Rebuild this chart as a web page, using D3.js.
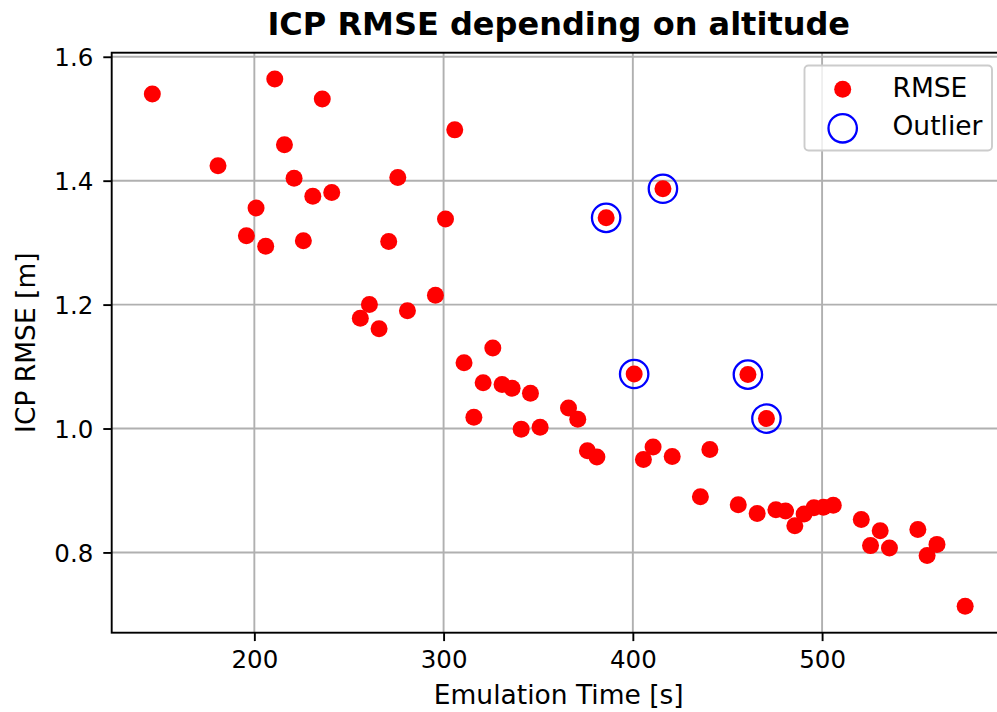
<!DOCTYPE html>
<html>
<head>
<meta charset="utf-8">
<script src="https://cdn.jsdelivr.net/npm/d3@7"></script>
<style>
  html, body { margin: 0; padding: 0; background: #fff; }
  svg { display: block; font-family: "DejaVu Sans", sans-serif; }
</style>
</head>
<body>
<svg id="chart" width="997" height="712"></svg>
<script>
const rmseX = [146.1, 180.8, 195.8, 200.9, 206.0, 210.8, 215.9, 221.0, 225.9, 230.9, 235.9, 240.9,
  256.0, 260.8, 265.9, 271.0, 275.8, 280.9, 295.7, 301.0, 305.9, 310.8, 316.0, 320.9, 326.0, 330.9,
  336.2, 341.0, 345.9, 351.0, 366.0, 370.9, 376.0, 381.0, 385.9, 400.7, 405.6, 410.7, 415.9, 420.8,
  435.7, 440.7, 455.7, 460.8, 465.7, 470.6, 475.6, 480.7, 485.6, 490.5, 495.7, 500.7, 505.9,
  520.7, 525.6, 530.7, 535.6, 550.6, 555.5, 560.7, 575.6];
const rmseY = [1.540, 1.424, 1.311, 1.356, 1.294, 1.564, 1.458, 1.404, 1.303, 1.375, 1.532, 1.381,
  1.178, 1.200, 1.161, 1.302, 1.405, 1.190, 1.215, 1.338, 1.482, 1.106, 1.018, 1.074, 1.130, 1.071,
  1.065, 0.999, 1.057, 1.002, 1.033, 1.015, 0.964, 0.954, 1.340, 1.088, 0.950, 0.970, 1.387, 0.955,
  0.890, 0.966, 0.877, 1.087, 0.863, 1.016, 0.869, 0.867, 0.843, 0.862, 0.872, 0.873, 0.876,
  0.853, 0.811, 0.835, 0.807, 0.837, 0.795, 0.813, 0.713];
const outlierX = [385.9, 400.7, 415.9, 460.8, 470.6];
const outlierY = [1.340, 1.088, 1.387, 1.087, 1.016];
const xTicks = [200, 300, 400, 500];
const yTicks = [0.8, 1.0, 1.2, 1.4, 1.6];
const titleText = "ICP RMSE depending on altitude";
const xLabelText = "Emulation Time [s]";
const yLabelText = "ICP RMSE [m]";
const legendLabels = ["RMSE", "Outlier"];

const svg = d3.select("#chart");
const L = 111.7, R = 1005.8, T = 52.7, B = 632.7;

const xMin = d3.min(rmseX), xMax = d3.max(rmseX);
const yMin = d3.min(rmseY), yMax = d3.max(rmseY);
const xPad = (xMax - xMin) * 0.05, yPad = (yMax - yMin) * 0.05;
const x = d3.scaleLinear().domain([xMin - xPad, xMax + xPad]).range([L, R]);
const y = d3.scaleLinear().domain([yMin - yPad, yMax + yPad]).range([B, T]);

const clipId = "plotclip";
svg.append("defs").append("clipPath").attr("id", clipId)
  .append("rect").attr("x", L).attr("y", T).attr("width", R - L).attr("height", B - T);

// grid
const grid = svg.append("g");
grid.selectAll("line.gx").data(xTicks).join("line")
  .attr("x1", d => x(d)).attr("x2", d => x(d)).attr("y1", T).attr("y2", B)
  .attr("stroke", "#b0b0b0").attr("stroke-width", 1.9);
grid.selectAll("line.gy").data(yTicks).join("line")
  .attr("y1", d => y(d)).attr("y2", d => y(d)).attr("x1", L).attr("x2", R)
  .attr("stroke", "#b0b0b0").attr("stroke-width", 1.9);

// points
const pts = svg.append("g").attr("clip-path", `url(#${clipId})`);
pts.selectAll("circle.rmse").data(rmseX.map((d, i) => [d, rmseY[i]])).join("circle")
  .attr("class", "rmse")
  .attr("cx", d => x(d[0])).attr("cy", d => y(d[1])).attr("r", 8.5)
  .attr("fill", "#ff0000");
pts.selectAll("circle.out").data(outlierX.map((d, i) => [d, outlierY[i]])).join("circle")
  .attr("class", "out")
  .attr("cx", d => x(d[0])).attr("cy", d => y(d[1])).attr("r", 14.2)
  .attr("fill", "none").attr("stroke", "#0000ff").attr("stroke-width", 2.3);

// axes
const xAxis = svg.append("g").attr("transform", `translate(0,${B})`)
  .call(d3.axisBottom(x).tickValues(xTicks).tickFormat(d3.format("d")).tickSize(8.4).tickPadding(8).tickSizeOuter(0));
const yAxis = svg.append("g").attr("transform", `translate(${L},0)`)
  .call(d3.axisLeft(y).tickValues(yTicks).tickFormat(d3.format(".1f")).tickSize(8.4).tickPadding(10).tickSizeOuter(0));
[xAxis, yAxis].forEach(a => {
  a.select(".domain").remove();
  a.selectAll(".tick line").attr("stroke", "#000").attr("stroke-width", 1.9);
  a.selectAll(".tick text").attr("fill", "#000").style("font-size", "24.5px").style("font-family", "DejaVu Sans");
});
yAxis.selectAll(".tick text").attr("dy", "0.36em");
xAxis.selectAll(".tick text").attr("dy", "0.76em");

// spines
svg.append("rect").attr("x", L).attr("y", T).attr("width", R - L).attr("height", B - T)
  .attr("fill", "none").attr("stroke", "#000").attr("stroke-width", 1.9);

// title and labels
svg.append("text").attr("x", (L + R) / 2).attr("y", 35).attr("text-anchor", "middle")
  .style("font-size", "32px").style("font-weight", "bold").text(titleText);
svg.append("text").attr("x", (L + R) / 2).attr("y", 704).attr("text-anchor", "middle")
  .style("font-size", "26.5px").text(xLabelText);
svg.append("text").attr("transform", `translate(35,${(T + B) / 2}) rotate(-90)`).attr("text-anchor", "middle")
  .style("font-size", "26.5px").text(yLabelText);

// legend
const lg = svg.append("g");
lg.append("rect").attr("x", 804.5).attr("y", 65.5).attr("width", 187.5).attr("height", 85)
  .attr("rx", 4).attr("fill", "#fff").attr("fill-opacity", 0.8)
  .attr("stroke", "#cccccc").attr("stroke-width", 1.9);
lg.append("circle").attr("cx", 842.7).attr("cy", 89.3).attr("r", 8.5).attr("fill", "#ff0000");
lg.append("circle").attr("cx", 842.7).attr("cy", 128.3).attr("r", 14.2)
  .attr("fill", "none").attr("stroke", "#0000ff").attr("stroke-width", 2.3);
lg.selectAll("text").data(legendLabels).join("text")
  .attr("x", 892.5).attr("y", (d, i) => 96.5 + i * 38.5)
  .style("font-size", "26.5px").text(d => d);
</script>
</body>
</html>
